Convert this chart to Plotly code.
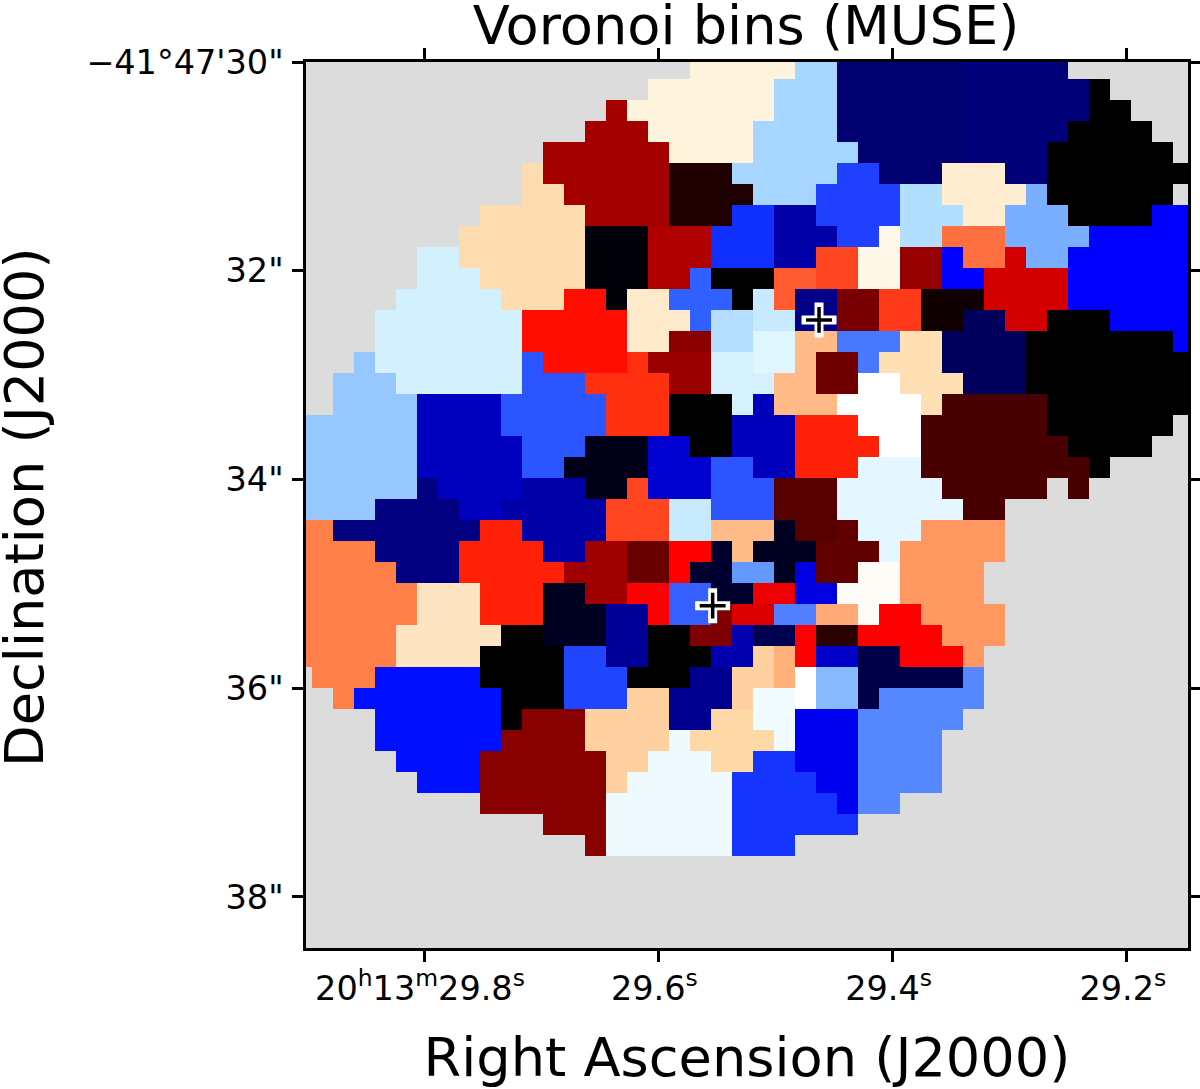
import plotly.graph_objects as go

# one colour per Voronoi bin, "_" is the masked background
bin_colors = {
    "_": "#DCDCDC", "Z": "#000000", "A": "#FEF3DC", "B": "#A6D5FF", "C1": "#000070", "C2": "#000078",
    "E": "#A50000", "F": "#1F0000", "G": "#2040FF", "H": "#FEEDD0", "I": "#FEDCB0", "J": "#B3DFFF",
    "K": "#7AAEFF", "L": "#1030FF", "M": "#0000A8", "N": "#0000FF", "O": "#000008", "P": "#B00000",
    "Q": "#FFF8E8", "R": "#FF7040", "S": "#FF4420", "T": "#960000", "U": "#D40000", "V": "#D2F0FF",
    "W": "#3060FF", "Y": "#FF5A30", "AA": "#FF0E00", "AB": "#FEEACB", "AC": "#C8EAFF", "AD": "#000088",
    "AE": "#780000", "AF": "#FF3A18", "AG": "#100000", "AH": "#B5DEFF", "AI": "#00005C", "AK": "#8C0000",
    "AL": "#E0F6FF", "AM": "#FFBA88", "AN": "#4878FF", "AO": "#FFE0B5", "AP": "#96C8FF", "AQ": "#2A55FF",
    "AR": "#FF3010", "AS": "#9A0000", "AT": "#D5F0FF", "AU": "#700000", "AV": "#FFFFFF", "AW": "#0000C0",
    "AX": "#0000BC", "AY": "#480000", "BA": "#FF2008", "BB": "#000018", "BC": "#0000D0", "BD": "#2D55FF",
    "BE": "#E4F6FF", "BF": "#000080", "BG": "#0000A8", "BH": "#FF4420", "BI": "#560000", "BJ": "#C8EAFF",
    "BK": "#FF7F48", "BL": "#FF2008", "BM": "#FFBB88", "BN": "#000020", "BO": "#600000", "BP": "#FF9860",
    "BQ": "#A00000", "BR": "#680000", "BS": "#FF0000", "BT": "#000030", "BU": "#6399FF", "BV": "#0000E0",
    "BW": "#FFFCF8", "BX": "#FEE4C0", "BY": "#000020", "BZ": "#3560FF", "CA": "#EE0000", "CB": "#000098",
    "CC": "#800000", "CD": "#DC0000", "CE": "#5080FF", "CF": "#FFA878", "CH": "#0000B0", "CI": "#000050",
    "CJ": "#2A0000", "CK": "#5588FF", "CL": "#2045FF", "CM": "#FFD0A0", "CN": "#FFB078", "CO": "#0000C8",
    "CP": "#000048", "CR": "#0010FF", "CS": "#000090", "CU": "#88BAFF", "CW": "#F0FBFF", "CX": "#880000",
    "CY": "#FFD8A8", "CZ": "#0000F0", "DA": "#EEFAFF", "DB": "#1535FF",
}

# bin map, one string per row: "bin:last column of the run", rest of the row is background
bin_rows = [
    "_:18 A:23 B:25 C1:31 C2:36",
    "_:16 A:22 B:25 C1:31 C2:37 Z:38",
    "_:14 E:15 A:22 B:25 C1:31 C2:37 Z:39",
    "_:13 E:16 A:21 B:25 C1:31 C2:36 Z:40",
    "_:11 E:17 A:21 B:26 C1:31 C2:35 Z:41",
    "_:10 I:11 E:17 F:20 B:25 G:27 C1:30 H:33 C2:35 Z:42",
    "_:10 I:12 E:17 F:21 B:24 G:28 J:30 H:34 K:35 Z:41",
    "_:8 I:13 E:17 F:20 L:22 M:24 G:28 J:31 H:33 K:36 Z:40 N:42",
    "_:7 I:13 O:16 P:19 L:22 M:25 G:27 Q:28 J:30 R:33 K:37 N:42",
    "_:5 V:7 I:13 O:16 P:19 L:22 M:24 S:26 Q:28 T:30 N:31 R:33 U:34 K:36 N:42",
    "_:5 V:8 I:13 O:16 P:18 W:19 Z:22 Y:24 S:26 Q:28 T:30 N:32 U:36 N:42",
    "_:4 V:9 I:12 AA:14 O:15 AB:17 W:20 Z:21 AC:22 Y:23 AD:25 AE:27 AF:29 AG:32 U:36 N:42",
    "_:3 V:10 AA:15 AB:18 W:19 AH:21 AC:23 AD:25 AE:27 AF:29 AG:31 AI:33 U:35 Z:38 N:42",
    "_:3 V:10 AA:15 AB:17 AK:19 AH:21 AL:23 AM:25 AN:28 AO:30 AI:34 Z:41 N:42",
    "_:2 AP:3 V:10 AQ:11 AA:15 AR:16 AS:19 AT:21 AL:23 AM:24 AU:26 AN:27 AO:30 AI:34 Z:42",
    "_:1 AP:4 V:10 AQ:13 AR:17 AS:19 AT:22 AM:24 AU:26 AV:28 AO:31 AI:34 Z:42",
    "_:1 AP:5 AW:9 AQ:14 AR:17 Z:20 AT:21 AX:22 AM:25 AV:29 AO:30 AY:35 Z:42",
    "AP:5 AW:9 AQ:14 AR:17 Z:20 AX:23 BA:26 AV:29 AY:35 Z:41",
    "AP:5 AW:10 AQ:13 BB:16 BC:18 Z:20 AX:23 BA:27 AV:29 AY:36 Z:40",
    "AP:5 AW:10 AQ:12 BB:16 BC:19 BD:21 AX:23 BA:26 BE:29 AY:37 Z:38",
    "AP:5 BF:6 AW:10 BG:13 BB:15 BH:16 BC:19 BD:22 BI:25 BE:30 AY:35 _:36 AY:37",
    "AP:3 BF:7 AW:9 BG:14 BH:17 BJ:19 BD:22 BI:25 BE:31 AY:33",
    "BK:1 BF:8 BL:10 BG:14 BH:17 BJ:19 BM:22 BN:23 BI:25 BO:26 BE:29 BP:33",
    "BK:3 BF:7 BL:11 BG:13 BQ:15 BR:17 BS:19 BT:20 BM:21 BN:24 BO:27 BE:28 BP:33",
    "BK:4 BF:7 BL:12 BQ:15 BR:17 BS:18 BT:20 BU:22 BN:23 BV:24 BO:26 BW:28 BP:32",
    "BK:5 BX:8 BL:11 BY:13 BQ:15 BS:17 BZ:19 BT:21 CA:23 BV:25 BW:28 BP:32",
    "BK:5 BX:8 BL:11 BY:14 CB:16 BS:17 BZ:19 CC:20 CD:22 CE:24 CF:26 BW:27 BS:29 BP:33",
    "BK:4 BX:9 Z:11 BY:14 CB:16 Z:18 CC:20 CH:21 CI:23 BS:24 CJ:26 BS:30 BP:33",
    "BK:4 BX:8 Z:12 CL:14 CB:16 Z:19 CH:21 CM:22 CN:23 BS:24 CO:26 CP:28 BS:31 BP:32",
    "_:0 BK:3 CR:8 Z:12 CL:15 Z:18 CS:20 CM:22 CN:23 AV:24 CU:26 CP:31 CK:32",
    "_:1 BK:2 CR:9 Z:12 CL:15 CM:17 CS:20 CM:21 CW:23 AV:24 CU:26 CP:27 CK:32",
    "_:3 CR:9 Z:10 CX:13 CM:17 CS:19 CY:21 CW:23 CZ:26 CK:31",
    "_:3 CR:9 CX:13 CM:17 DA:18 CY:22 CW:23 CZ:26 CK:30",
    "_:4 CR:8 CX:14 CM:16 DA:19 CY:21 DB:23 CZ:26 CK:30",
    "_:5 CR:8 CX:14 CM:15 DA:20 DB:24 CZ:26 CK:30",
    "_:8 CX:14 DA:20 DB:25 CZ:26 CK:28",
    "_:11 CX:14 DA:20 DB:26",
    "_:13 CX:14 DA:20 DB:23",
    "", "", "", "",
]

# the two nuclei
nuclei_ra = [29.4628, 29.5536]
nuclei_dec = [32.471, 35.209]

ra_ticks = [29.8, 29.6, 29.4, 29.2]
ra_labels = ["20<sup>h</sup>13<sup>m</sup>29.8<sup>s</sup>", "29.6<sup>s</sup>", "29.4<sup>s</sup>", "29.2<sup>s</sup>"]
dec_ticks = [30, 32, 34, 36, 38]
dec_labels = ["\u221241\u00b047'30\"", '32"', '34"', '36"', '38"']

N_COLS = 43
names = list(bin_colors)
lookup = {name: i for i, name in enumerate(names)}


def _expand_row(row):
    cells = []
    for run in row.split():
        name, last = run.split(":")
        cells += [lookup[name]] * (int(last) + 1 - len(cells))
    return cells + [lookup["_"]] * (N_COLS - len(cells))


z = [_expand_row(r) for r in bin_rows]
colorscale = [[i / (len(names) - 1), bin_colors[n]] for i, n in enumerate(names)]

fig = go.Figure()
fig.add_trace(
    go.Heatmap(
        z=z,
        x0=29.9043,
        dx=-0.017926,
        y0=30.065,
        dy=0.2012,
        zmin=0,
        zmax=len(names) - 1,
        colorscale=colorscale,
        showscale=False,
        zsmooth=False,
    )
)
fig.add_trace(
    go.Scatter(
        x=nuclei_ra, y=nuclei_dec, mode="markers", showlegend=False,
        marker=dict(symbol="cross-thin", size=25, line=dict(color="white", width=9)),
    )
)
fig.add_trace(
    go.Scatter(
        x=nuclei_ra, y=nuclei_dec, mode="markers", showlegend=False,
        marker=dict(symbol="cross-thin", size=18.5, line=dict(color="black", width=3.5)),
    )
)

label_font = dict(family="DejaVu Sans", size=54.2, color="black")
axis_style = dict(
    showgrid=False, zeroline=False, showline=True, linecolor="black", linewidth=2.5, mirror="ticks",
    automargin=False, ticks="outside", ticklen=11, tickwidth=2.5, tickcolor="black", tickmode="array",
    tickfont=dict(family="DejaVu Sans", size=33.5, color="black"),
)
fig.update_layout(
    width=1200,
    height=1089,
    margin=dict(l=306, r=12, t=62, b=141),
    paper_bgcolor="white",
    plot_bgcolor="#DCDCDC",
    showlegend=False,
    title=dict(
        text="Voronoi bins (MUSE)", font=label_font,
        x=746 / 1200, xanchor="center", y=1 - 25 / 1089, yanchor="middle",
    ),
    xaxis=dict(
        axis_style, range=[29.90073, 29.14784], tickvals=ra_ticks, ticktext=ra_labels,
        ticklabelshift=4, ticklabelstandoff=-2,
        title=dict(text="Right Ascension (J2000)", font=label_font, standoff=32),
    ),
    yaxis=dict(
        axis_style, range=[38.489, 30], tickvals=dec_ticks, ticktext=dec_labels,
        ticklabelstandoff=2,
    ),
    # placed by hand, the axis title gets clamped inside the page edge
    annotations=[
        dict(
            text="Declination (J2000)", font=label_font, textangle=-90, showarrow=False,
            xref="paper", yref="paper", xanchor="center", yanchor="middle",
            x=(25 - 306) / 882, y=(948 - 507) / 886,
        )
    ],
)

fig.write_html(
    "out.html",
    config={"responsive": False, "displayModeBar": False},
    post_script="document.body.style.margin='0';document.body.style.overflow='hidden';",
)
